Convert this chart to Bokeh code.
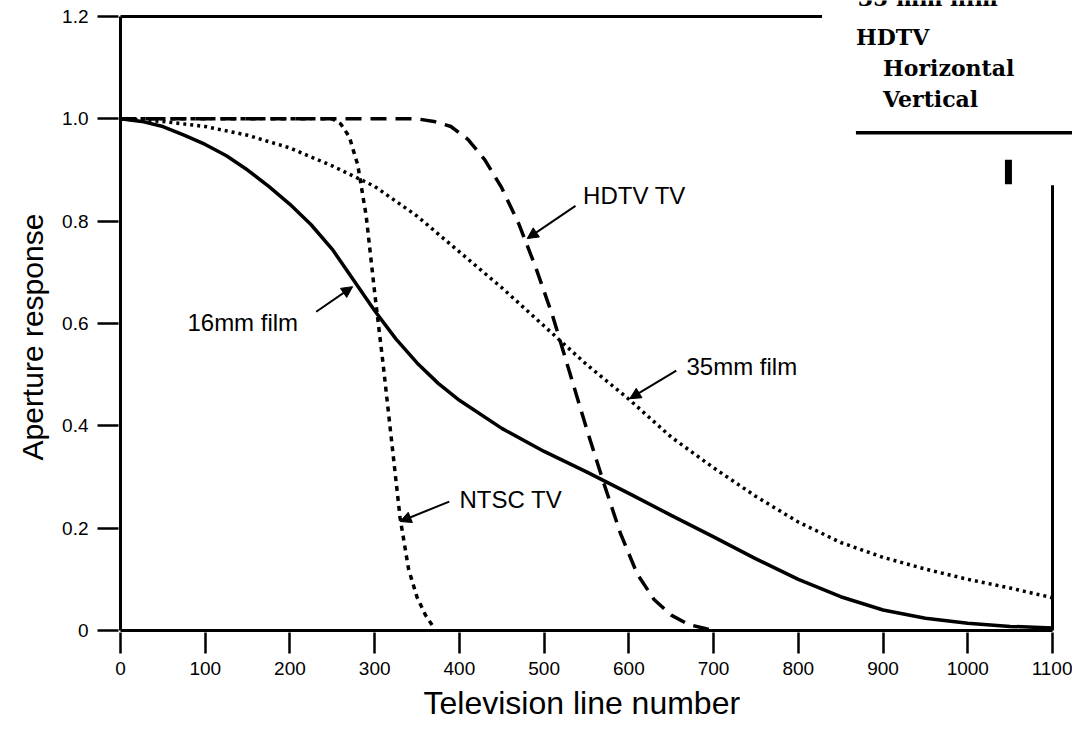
from bokeh.plotting import figure
from bokeh.models import FixedTicker, Label, Arrow, NormalHead, Range1d, Title
from bokeh.embed import file_html
from bokeh.resources import INLINE

# ---- data ----
film16_x = [0, 25, 50, 75, 100, 125, 150, 175, 200, 225, 250, 275, 300, 325, 350, 375, 400,
            450, 500, 550, 600, 650, 700, 750, 800, 850, 900, 950, 1000, 1050, 1100]
film16_y = [1.0, 0.995, 0.985, 0.968, 0.95, 0.928, 0.9, 0.868, 0.833, 0.793, 0.745, 0.685, 0.625,
            0.57, 0.523, 0.483, 0.45, 0.395, 0.35, 0.31, 0.268, 0.225, 0.183, 0.14, 0.1, 0.066,
            0.04, 0.024, 0.014, 0.008, 0.005]

film35_x = [0, 50, 100, 150, 200, 250, 300, 350, 400, 450, 500, 550, 600, 650, 700, 750, 800,
            850, 900, 950, 1000, 1050, 1100]
film35_y = [1.0, 0.995, 0.985, 0.968, 0.943, 0.908, 0.868, 0.81, 0.74, 0.67, 0.595, 0.52, 0.452,
            0.378, 0.318, 0.262, 0.212, 0.172, 0.143, 0.12, 0.1, 0.083, 0.064]

ntsc_x = [0, 100, 200, 250, 260, 270, 280, 290, 300, 310, 320, 330, 340, 350, 360, 370]
ntsc_y = [1.0, 1.0, 1.0, 1.0, 0.99, 0.965, 0.91, 0.81, 0.66, 0.52, 0.37, 0.22, 0.12, 0.065, 0.03, 0.005]

hdtv_x = [0, 100, 200, 300, 350, 370, 390, 410, 430, 450, 470, 490, 510, 530, 550, 570, 590,
          610, 630, 650, 670, 690, 700]
hdtv_y = [1.0, 1.0, 1.0, 1.0, 1.0, 0.995, 0.985, 0.96, 0.92, 0.865, 0.795, 0.71, 0.615, 0.505,
          0.395, 0.29, 0.19, 0.11, 0.06, 0.03, 0.012, 0.004, 0.0]

x_ticks = [0, 100, 200, 300, 400, 500, 600, 700, 800, 900, 1000, 1100]
y_ticks = [0, 0.2, 0.4, 0.6, 0.8, 1.0, 1.2]
y_tick_labels = ["0", "0.2", "0.4", "0.6", "0.8", "1.0", "1.2"]

x_title = "Television line number"
y_title = "Aperture response"

# curve annotations: (text, text x, text y, arrow start x, y, arrow tip x, y)
notes = [
    ("HDTV TV", 546, 0.850, 537, 0.830, 480, 0.766),
    ("16mm film", 79, 0.602, 231, 0.623, 274, 0.672),
    ("35mm film", 668, 0.516, 656, 0.508, 601, 0.453),
    ("NTSC TV", 400, 0.256, 388, 0.252, 330, 0.213),
]

# ---- layout ----
W, H = 1072, 729
SANS = "Liberation Sans"
SERIF = "DejaVu Serif"

p = figure(width=W, height=H, output_backend="svg", toolbar_location=None,
           x_range=Range1d(-2.36, 1123.6), y_range=Range1d(-0.0039, 1.2313),
           min_border_left=118, min_border_right=0, min_border_top=0, min_border_bottom=97)
p.outline_line_color = None
p.xgrid.visible = False
p.ygrid.visible = False
p.background_fill_color = "white"

for ax in (p.xaxis[0], p.yaxis[0]):
    ax.axis_line_color = None
    ax.major_tick_out = 21
    ax.major_tick_in = 0
    ax.major_tick_line_width = 2.5
    ax.major_tick_line_color = "black"
    ax.minor_tick_line_color = None
    ax.major_label_text_font = SANS
    ax.major_label_text_font_size = "19px"
    ax.major_label_text_color = "black"

p.xaxis.ticker = FixedTicker(ticks=x_ticks)
p.yaxis.ticker = FixedTicker(ticks=y_ticks)
p.yaxis.major_label_overrides = {t: s for t, s in zip(y_ticks, y_tick_labels)}
p.xaxis.major_label_standoff = 8
p.yaxis.major_label_standoff = 9

# axis titles (side titles, placed where the original has them)
p.add_layout(Title(text=x_title, align="left", offset=305, standoff=10,
                   text_font=SANS, text_font_size="32px", text_font_style="normal",
                   text_color="black"), "below")
p.add_layout(Title(text=y_title, align="left", offset=172, standoff=22,
                   text_font=SANS, text_font_size="30px", text_font_style="normal",
                   text_color="black"), "left")

# frame lines of the original figure
p.segment(x0=[0, 0, 0, 1100], y0=[0, 0, 1.2, 0], x1=[0, 1100, 828, 1100], y1=[1.2, 0, 1.2, 0.87],
          line_color="black", line_width=3)
# remnants of the overlapping table
p.segment(x0=[868], y0=[0.973], x1=[1124], y1=[0.973], line_color="black", line_width=3.5)
p.segment(x0=[1048], y0=[0.872], x1=[1048], y1=[0.92], line_color="black", line_width=7)

# curves
p.line(film16_x, film16_y, line_color="black", line_width=3.5)
p.line(film35_x, film35_y, line_color="black", line_width=3.5, line_dash="3 4")
p.line(ntsc_x, ntsc_y, line_color="black", line_width=3.5, line_dash="5 5")
p.line(hdtv_x, hdtv_y, line_color="black", line_width=3.5, line_dash="16 9")

for txt, tx, ty, ax0, ay0, ax1, ay1 in notes:
    p.add_layout(Label(x=tx, y=ty, text=txt, text_font=SANS, text_font_size="24px",
                       text_baseline="middle", text_align="left", text_color="black"))
    p.add_layout(Arrow(end=NormalHead(size=11, fill_color="black", line_color="black"),
                       x_start=ax0, y_start=ay0, x_end=ax1, y_end=ay1,
                       line_color="black", line_width=2))

# table text (serif, bold); the first row is cut by the top edge as in the original
table_rows = [("35 mm film", 870, 1.2371), ("HDTV", 868, 1.1599), ("Horizontal", 900, 1.0993),
              ("Vertical", 900, 1.0387)]
for txt, tx, ty in table_rows:
    p.add_layout(Label(x=tx, y=ty, text=txt, text_font=SERIF, text_font_style="bold",
                       text_font_size="22px", text_baseline="middle", text_align="left",
                       text_color="black"))

open("out.html", "w").write(file_html(p, INLINE))
